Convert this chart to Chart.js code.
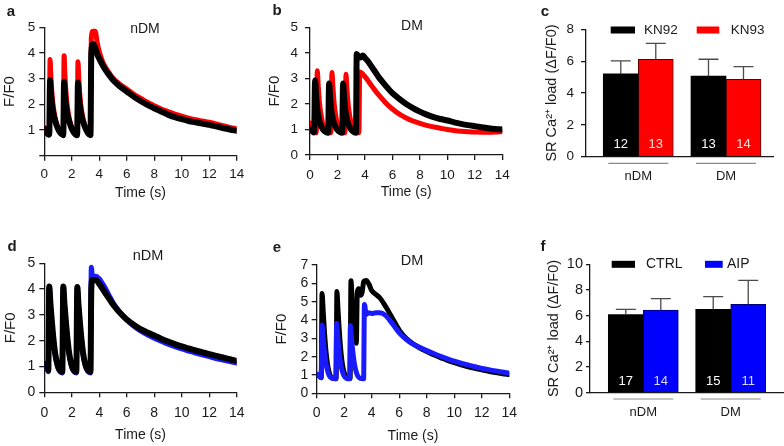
<!DOCTYPE html>
<html>
<head>
<meta charset="utf-8">
<script src="https://cdn.jsdelivr.net/npm/chart.js"></script>
<style>
html,body{margin:0;padding:0;background:#fff;}
#wrap{position:relative;width:784px;height:446px;overflow:hidden;background:#fff;font-family:'Liberation Sans',Arial,Helvetica,sans-serif;color:#1a1a1a;}
#wrap canvas{position:absolute;left:0;top:0;}
.lbl{position:absolute;transform:translate(-50%,-50%);white-space:nowrap;line-height:1;}
.pl{font-weight:bold;font-size:15px;}
.tt{font-size:14px;}
</style>
</head>
<body>
<div id="wrap">
<canvas id="cA" width="784" height="446"></canvas>
<canvas id="cB" width="784" height="446"></canvas>
<canvas id="cC" width="784" height="446"></canvas>
<canvas id="cD" width="784" height="446"></canvas>
<canvas id="cE" width="784" height="446"></canvas>
<canvas id="cF" width="784" height="446"></canvas>
<div class="lbl pl" style="left:11px;top:10px">a</div>
<div class="lbl pl" style="left:277px;top:9px">b</div>
<div class="lbl pl" style="left:545px;top:10px">c</div>
<div class="lbl pl" style="left:12px;top:245px">d</div>
<div class="lbl pl" style="left:277px;top:246px">e</div>
<div class="lbl pl" style="left:543px;top:245px">f</div>
<div class="lbl tt" style="left:145px;top:28px">nDM</div>
<div class="lbl tt" style="left:412px;top:25px">DM</div>
<div class="lbl tt" style="left:148px;top:255px;font-size:14.5px">nDM</div>
<div class="lbl tt" style="left:412px;top:260px;font-size:14.5px">DM</div>
</div>
<script>
// ---------- Panel a (nDM, KN92 black / KN93 red) ----------
const aTime = [
 0, 0.1, 0.2, 0.32,
 0.36, 0.42, 0.48, 0.56, 0.66, 0.78, 0.95, 1.15, 1.32,
 1.38, 1.44, 1.5, 1.58, 1.68, 1.8, 1.97, 2.17, 2.33,
 2.39, 2.45, 2.51, 2.59, 2.69, 2.81, 2.98, 3.18, 3.36,
 3.42, 3.55, 3.7, 3.85, 4.0, 4.25, 4.5, 4.75, 5.0,
 5.5, 6.0, 6.5, 7.0, 7.5, 8.0, 8.5, 9.0, 9.5, 10,
 10.5, 11, 11.5, 12, 12.5, 13, 13.5, 14];
const aKN92 = [
 1.05, 1.0, 0.88, 0.82,
 0.82, 2.95, 2.45, 2.0, 1.65, 1.38, 1.1, 0.9, 0.82,
 0.8, 2.88, 2.4, 1.95, 1.62, 1.36, 1.08, 0.88, 0.8,
 0.8, 2.85, 2.38, 1.93, 1.6, 1.35, 1.08, 0.88, 0.8,
 4.0, 4.35, 4.2, 3.95, 3.78, 3.52, 3.3, 3.12, 2.95,
 2.7, 2.5, 2.3, 2.13, 1.98, 1.85, 1.72, 1.6, 1.5, 1.42,
 1.35, 1.3, 1.25, 1.2, 1.14, 1.08, 1.02, 0.97];
const aKN93 = [
 1.1, 1.05, 0.9, 0.83,
 0.83, 3.75, 3.05, 2.4, 1.88, 1.5, 1.15, 0.92, 0.83,
 0.8, 3.89, 3.15, 2.45, 1.9, 1.5, 1.13, 0.9, 0.8,
 0.8, 3.66, 3.0, 2.35, 1.85, 1.47, 1.12, 0.9, 0.8,
 4.6, 4.85, 4.85, 4.4, 4.05, 3.65, 3.4, 3.2, 3.02,
 2.78, 2.6, 2.4, 2.24, 2.08, 1.95, 1.82, 1.72, 1.62, 1.54,
 1.46, 1.4, 1.35, 1.3, 1.24, 1.17, 1.1, 1.05];

// ---------- Panel b (DM, KN92 black / KN93 red) ----------
const bTimeKN92 = [
 0, 0.1, 0.2, 0.3,
 0.37, 0.44, 0.52, 0.62, 0.75, 0.95, 1.15, 1.32,
 1.39, 1.46, 1.54, 1.64, 1.77, 1.97, 2.17, 2.34,
 2.41, 2.48, 2.56, 2.66, 2.79, 2.99, 3.19, 3.35,
 3.4, 3.55, 3.7, 3.85, 4.0, 4.2, 4.5, 4.75, 5.0,
 5.5, 6.0, 6.5, 7.0, 7.5, 8.0, 8.5, 9.0, 9.5, 10,
 10.5, 11, 11.5, 12, 12.5, 13, 13.5, 14];
const bKN92 = [
 1.0, 0.98, 0.92, 0.88,
 2.92, 2.35, 1.85, 1.5, 1.22, 1.0, 0.9, 0.87,
 2.8, 2.28, 1.8, 1.47, 1.2, 1.0, 0.9, 0.87,
 2.8, 2.28, 1.8, 1.47, 1.2, 1.0, 0.9, 0.87,
 3.95, 3.85, 3.82, 3.9, 3.8, 3.68, 3.45, 3.25, 3.05,
 2.72, 2.42, 2.2, 2.0, 1.84, 1.7, 1.58, 1.48, 1.41, 1.35,
 1.28, 1.22, 1.17, 1.13, 1.09, 1.05, 1.02, 1.0];
const bTimeKN93 = [
 0, 0.15, 0.3, 0.46,
 0.53, 0.6, 0.68, 0.78, 0.9, 1.08, 1.28, 1.52,
 1.6, 1.67, 1.75, 1.85, 1.97, 2.15, 2.35, 2.55,
 2.62, 2.69, 2.77, 2.87, 2.99, 3.17, 3.37, 3.56,
 3.62, 3.8, 3.95, 4.1, 4.3, 4.5, 4.75, 5.0,
 5.5, 6.0, 6.5, 7.0, 7.5, 8.0, 8.5, 9.0, 9.5, 10,
 10.5, 11, 11.5, 12, 12.5, 13, 13.5, 14];
const bKN93 = [
 1.25, 1.1, 0.95, 0.87,
 3.3, 2.7, 2.1, 1.65, 1.3, 1.03, 0.9, 0.87,
 3.23, 2.65, 2.07, 1.62, 1.28, 1.02, 0.9, 0.87,
 3.16, 2.6, 2.03, 1.6, 1.27, 1.02, 0.9, 0.87,
 3.25, 3.2, 3.1, 3.0, 2.85, 2.7, 2.52, 2.35,
 2.05, 1.8, 1.6, 1.45, 1.33, 1.24, 1.16, 1.1, 1.05, 1.0,
 0.96, 0.93, 0.91, 0.9, 0.89, 0.89, 0.9, 0.92];

// ---------- Panel c (SR load, KN92 / KN93) ----------
const cGroups = ['nDM', 'DM'];
const cKN92 = [5.2, 5.07];
const cKN92Err = [0.82, 1.05];
const cKN92N = [12, 13];
const cKN93 = [6.12, 4.86];
const cKN93Err = [1.0, 0.79];
const cKN93N = [13, 14];

// ---------- Panel d (nDM, CTRL black / AIP blue) ----------
const dTime = [
 0, 0.1, 0.2, 0.29,
 0.36, 0.45, 0.55, 0.66, 0.78, 0.9, 1.05, 1.2, 1.31,
 1.38, 1.47, 1.57, 1.68, 1.8, 1.92, 2.07, 2.22, 2.33,
 2.4, 2.49, 2.59, 2.7, 2.82, 2.94, 3.09, 3.24, 3.36,
 3.42, 3.5, 3.75, 4.0, 4.25, 4.5, 4.75, 5.0,
 5.5, 6.0, 6.5, 7.0, 7.5, 8.0, 8.5, 9.0, 9.5, 10,
 10.5, 11, 11.5, 12, 12.5, 13, 13.5, 14];
const dCTRL = [
 1.1, 1.08, 1.0, 0.85,
 4.1, 3.4, 2.75, 2.1, 1.55, 1.2, 0.92, 0.82, 0.8,
 4.1, 3.4, 2.75, 2.1, 1.55, 1.2, 0.92, 0.82, 0.8,
 4.08, 3.38, 2.72, 2.08, 1.53, 1.18, 0.92, 0.82, 0.8,
 4.0, 4.35, 4.35, 4.2, 4.0, 3.8, 3.6, 3.4,
 3.08, 2.82, 2.62, 2.45, 2.32, 2.2, 2.08, 1.97, 1.87, 1.78,
 1.7, 1.62, 1.55, 1.48, 1.41, 1.35, 1.28, 1.22];
const dAIP = [
 1.05, 1.0, 0.95, 0.8,
 4.05, 3.35, 2.7, 2.05, 1.5, 1.15, 0.88, 0.77, 0.75,
 4.05, 3.35, 2.7, 2.05, 1.5, 1.15, 0.88, 0.77, 0.75,
 4.03, 3.33, 2.68, 2.03, 1.48, 1.13, 0.88, 0.77, 0.75,
 4.85, 4.5, 4.5, 4.4, 4.2, 3.98, 3.72, 3.48,
 3.1, 2.8, 2.57, 2.38, 2.23, 2.1, 1.98, 1.87, 1.77, 1.68,
 1.6, 1.52, 1.45, 1.38, 1.31, 1.25, 1.19, 1.13];

// ---------- Panel e (DM, CTRL black / AIP blue) ----------
const eTimeAIP = [
 0, 0.1, 0.2, 0.33,
 0.39, 0.47, 0.56, 0.66, 0.78, 0.92, 1.1, 1.39,
 1.45, 1.53, 1.62, 1.72, 1.84, 1.98, 2.16, 2.39,
 2.45, 2.53, 2.62, 2.72, 2.84, 2.98, 3.16, 3.41,
 3.47, 3.6, 3.8, 4.0, 4.3, 4.6, 5.0, 5.5,
 6.0, 6.5, 7.0, 7.5, 8.0, 8.5, 9.0, 9.5, 10,
 10.5, 11, 11.5, 12, 12.5, 13, 13.5, 14];
const eAIP = [
 1.05, 1.02, 0.95, 0.85,
 3.73, 3.0, 2.3, 1.7, 1.25, 0.95, 0.82, 0.8,
 3.82, 3.05, 2.35, 1.72, 1.26, 0.96, 0.82, 0.8,
 3.7, 3.0, 2.3, 1.7, 1.25, 0.95, 0.82, 0.8,
 4.85, 4.3, 4.4, 4.35, 4.4, 4.4, 4.25, 3.8,
 3.3, 2.95, 2.68, 2.5, 2.33, 2.17, 2.02, 1.88, 1.75,
 1.64, 1.55, 1.45, 1.36, 1.29, 1.22, 1.16, 1.1];
const eTimeCTRL = [
 0, 0.1, 0.2, 0.33,
 0.39, 0.47, 0.56, 0.66, 0.78, 0.92, 1.1, 1.41,
 1.47, 1.55, 1.64, 1.74, 1.86, 2.0, 2.18, 2.43,
 2.49, 2.58, 2.68, 2.8, 2.88, 2.95, 3.05, 3.2, 3.3,
 3.42, 3.6, 3.8, 4.0, 4.3, 4.6, 5.0, 5.5,
 6.0, 6.5, 7.0, 7.5, 8.0, 8.5, 9.0, 9.5, 10,
 10.5, 11, 11.5, 12, 12.5, 13, 13.5, 14];
const eCTRL = [
 1.0, 0.98, 0.92, 0.85,
 5.45, 4.5, 3.4, 2.4, 1.6, 1.1, 0.85, 0.8,
 5.55, 4.55, 3.45, 2.45, 1.62, 1.12, 0.86, 0.8,
 6.14, 5.0, 3.9, 3.0, 2.73, 5.5, 5.7, 5.35, 5.5,
 6.1, 6.15, 5.95, 5.6, 5.4, 5.2, 4.75, 4.1,
 3.45, 3.0, 2.7, 2.47, 2.28, 2.1, 1.95, 1.8, 1.67,
 1.55, 1.45, 1.36, 1.28, 1.2, 1.13, 1.07, 1.02];

// ---------- Panel f (SR load, CTRL / AIP) ----------
const fGroups = ['nDM', 'DM'];
const fCTRL = [6.08, 6.49];
const fCTRLErr = [0.41, 0.99];
const fCTRLN = [17, 15];
const fAIP = [6.44, 6.88];
const fAIPErr = [0.88, 1.87];
const fAIPN = [14, 11];

const xTickValues = [0, 2, 4, 6, 8, 10, 12, 14];

// ================= drawing =================
const FONT = "'Liberation Sans', Arial, Helvetica, sans-serif";
const AX = '#1a1a1a';
Chart.defaults.font.family = FONT;
Chart.defaults.color = AX;
Chart.defaults.plugins.legend.display = false;
Chart.defaults.plugins.tooltip.enabled = false;

function pts(t, v) { return t.map((x, i) => ({x: x, y: v[i]})); }

const gridStyle = {drawOnChartArea: false, drawTicks: true, tickLength: 5, color: AX, lineWidth: 1.3};
const borderStyle = {display: true, color: AX, width: 1.3};

function traceChart(id, g, sets) {
  return new Chart(document.getElementById(id), {
    type: 'line',
    data: {datasets: sets.map(s => ({
      label: s.label, data: pts(s.t, s.v), borderColor: s.color, borderWidth: s.w,
      pointRadius: 0, fill: false, cubicInterpolationMode: 'monotone',
      borderJoinStyle: 'round', borderCapStyle: 'round'
    }))},
    options: {
      responsive: false, animation: false, devicePixelRatio: 1, events: [],
      layout: {padding: {left: g.L - g.wy, top: g.T, right: 784 - g.R, bottom: 446 - g.B - g.hx}},
      scales: {
        x: {type: 'linear', min: 0, max: 14, afterFit: s => { s.height = g.hx; },
          afterBuildTicks: s => { s.ticks = xTickValues.map(v => ({value: v})); },
          ticks: {padding: g.xpad, color: AX, font: {size: g.fs}, maxRotation: 0, autoSkip: false},
          grid: gridStyle, border: borderStyle,
          title: {display: true, text: 'Time (s)', color: AX, font: {size: 14}, padding: 0}},
        y: {type: 'linear', min: 0, max: g.ymax, afterFit: s => { s.width = g.wy; },
          ticks: {stepSize: 1, padding: g.ypad, color: AX, font: {size: g.fs}, autoSkip: false,
            callback: v => (g.hideZero && v === 0) ? '' : String(v)},
          grid: gridStyle, border: borderStyle,
          title: {display: true, text: 'F/F0', color: AX, font: {size: 15}, padding: 0}}
      }
    }
  });
}

const barExtras = {
  id: 'barExtras',
  afterDatasetsDraw(chart, args, o) {
    const ctx = chart.ctx, ys = chart.scales.y, xs = chart.scales.x, ca = chart.chartArea;
    ctx.save();
    chart.data.datasets.forEach((ds, di) => {
      chart.getDatasetMeta(di).data.forEach((bar, i) => {
        const v = ds.data[i].y;
        const top = ys.getPixelForValue(v + ds.err[i]);
        ctx.strokeStyle = '#4a4a4a'; ctx.lineWidth = 1.3;
        ctx.beginPath();
        ctx.moveTo(bar.x, bar.y); ctx.lineTo(bar.x, top);
        ctx.moveTo(bar.x - 10, top); ctx.lineTo(bar.x + 10, top);
        ctx.stroke();
        ctx.fillStyle = ds.nColor;
        ctx.font = '13px ' + FONT;
        ctx.textAlign = 'center'; ctx.textBaseline = 'middle';
        ctx.fillText(String(ds.n[i]), bar.x, ys.getPixelForValue(0) - o.nOff);
      });
    });
    ctx.strokeStyle = '#8a8a8a'; ctx.lineWidth = 1.2;
    o.groups.forEach((g, i) => {
      const px = xs.getPixelForValue(i);
      ctx.beginPath();
      ctx.moveTo(px - 30, ca.bottom + o.ulGap); ctx.lineTo(px + 30, ca.bottom + o.ulGap);
      ctx.stroke();
    });
    chart.data.datasets.forEach((ds, di) => {
      const L = o.legend[di];
      ctx.fillStyle = ds.backgroundColor;
      ctx.fillRect(ca.left + L.sx, ca.top + o.legY - 3.5, L.sw, 7);
      ctx.fillStyle = AX; ctx.font = o.legFont + 'px ' + FONT;
      ctx.textAlign = 'left'; ctx.textBaseline = 'middle';
      ctx.fillText(ds.label, ca.left + L.tx, ca.top + o.legY);
    });
    ctx.restore();
  }
};

function barChart(id, g, groups, sets) {
  return new Chart(document.getElementById(id), {
    type: 'bar',
    data: {datasets: sets.map(s => ({
      label: s.label, data: groups.map((_, i) => ({x: i, y: s.v[i]})),
      err: s.err, n: s.n, nColor: s.nColor,
      backgroundColor: s.color, borderColor: s.border, borderWidth: s.bw,
      barThickness: 35
    }))},
    options: {
      responsive: false, animation: false, devicePixelRatio: 1, events: [],
      layout: {padding: {left: g.L - g.wy, top: g.T, right: 784 - g.R, bottom: 446 - g.B - g.hx}},
      scales: {
        x: {type: 'linear', min: g.xmin, max: g.xmax, offset: false,
          afterFit: s => { s.height = g.hx; },
          afterBuildTicks: s => { s.ticks = groups.map((_, i) => ({value: i})); },
          ticks: {padding: g.xpad, color: AX, font: {size: 13}, maxRotation: 0, autoSkip: false,
            callback: v => groups[v] !== undefined ? groups[v] : ''},
          grid: {display: false, drawTicks: false, offset: false}, border: borderStyle},
        y: {type: 'linear', min: 0, max: g.ymax, afterFit: s => { s.width = g.wy; },
          ticks: {stepSize: 2, padding: g.ypad, color: AX, font: {size: g.fs}, autoSkip: false},
          grid: {drawOnChartArea: false, drawTicks: true, tickLength: g.tl, color: AX, lineWidth: 1.3},
          border: borderStyle,
          title: {display: true, text: 'SR Ca²⁺ load (ΔF/F0)', color: AX, font: {size: 14.5}, padding: 0}}
      },
      plugins: {barExtras: {groups: groups, nOff: g.nOff, ulGap: g.ulGap, legY: g.legY, legend: g.legend, legFont: g.legFont}}
    },
    plugins: [barExtras]
  });
}

// Panel a
traceChart('cA', {L: 44.3, T: 27.3, R: 236.7, B: 155.7, wy: 43.2, hx: 46, xpad: 5.6, ypad: 4, fs: 13.5, ymax: 5, hideZero: true}, [
  {label: 'KN92', t: aTime, v: aKN92, color: '#000000', w: 6},
  {label: 'KN93', t: aTime, v: aKN93, color: '#ff0000', w: 5}
]);
// Panel b
traceChart('cB', {L: 310, T: 27.3, R: 502.3, B: 155, wy: 44.4, hx: 46, xpad: 7.5, ypad: 7, fs: 13.5, ymax: 5, hideZero: false}, [
  {label: 'KN92', t: bTimeKN92, v: bKN92, color: '#000000', w: 6},
  {label: 'KN93', t: bTimeKN93, v: bKN93, color: '#ff0000', w: 5}
]);
// Panel c
barChart('cC', {L: 586, T: 29.3, R: 773, B: 156.7, wy: 42.7, hx: 30, xpad: 12, ypad: 7, tl: 5, fs: 13.5, ymax: 8,
  xmin: -0.596, xmax: 1.536, nOff: 12.7, ulGap: 6.6, legY: 0.7, legFont: 13.5,
  legend: [{sx: 24.7, sw: 24.3, tx: 58}, {sx: 110.7, sw: 22.6, tx: 144.7}]}, cGroups, [
  {label: 'KN92', v: cKN92, err: cKN92Err, n: cKN92N, color: '#000000', border: '#000000', bw: 0, nColor: '#ffffff'},
  {label: 'KN93', v: cKN93, err: cKN93Err, n: cKN93N, color: '#ff0000', border: '#5a0000', bw: 1, nColor: '#ffe0e0'}
]);
// Panel d
traceChart('cD', {L: 44.3, T: 263.3, R: 236.7, B: 392.3, wy: 42.7, hx: 51, xpad: 7.5, ypad: 4, fs: 14, ymax: 5, hideZero: false}, [
  {label: 'CTRL', t: dTime, v: dCTRL, color: '#000000', w: 6},
  {label: 'AIP', t: dTime, v: dAIP, color: '#1a1aff', w: 5}
]);
// Panel e
traceChart('cE', {L: 316.7, T: 265, R: 509.3, B: 393.3, wy: 44.1, hx: 51, xpad: 6.5, ypad: 3.5, fs: 14, ymax: 7, hideZero: false}, [
  {label: 'AIP', t: eTimeAIP, v: eAIP, color: '#1a1aff', w: 5},
  {label: 'CTRL', t: eTimeCTRL, v: eCTRL, color: '#000000', w: 5}
]);
// Panel f
barChart('cF', {L: 590, T: 264.3, R: 783, B: 392.7, wy: 45.1, hx: 30, xpad: 12, ypad: 3, tl: 4, fs: 14.5, ymax: 10,
  xmin: -0.61, xmax: 1.598, nOff: 11.7, ulGap: 6.3, legY: 0, legFont: 14,
  legend: [{sx: 21.7, sw: 23.3, tx: 56}, {sx: 115, sw: 17.7, tx: 137}]}, fGroups, [
  {label: 'CTRL', v: fCTRL, err: fCTRLErr, n: fCTRLN, color: '#000000', border: '#000000', bw: 0, nColor: '#ffffff'},
  {label: 'AIP', v: fAIP, err: fAIPErr, n: fAIPN, color: '#0000ff', border: '#00007a', bw: 1, nColor: '#d8d8ff'}
]);
</script>
</body>
</html>
